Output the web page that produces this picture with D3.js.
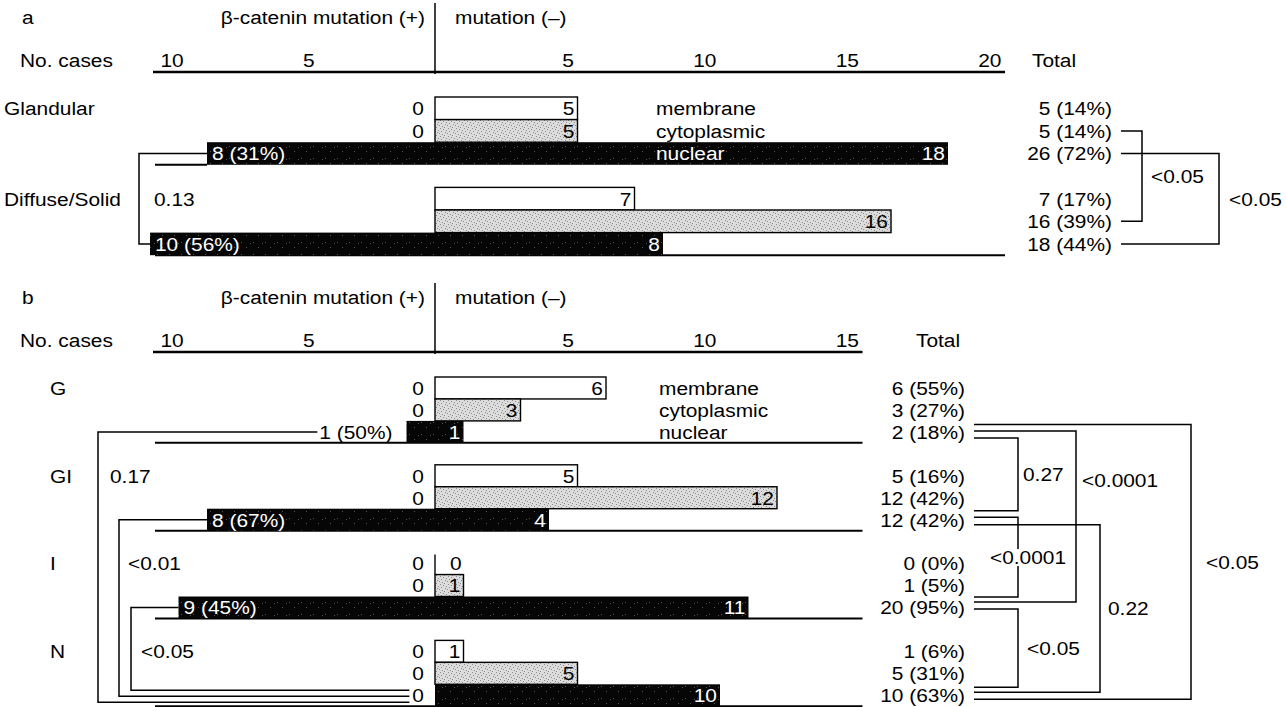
<!DOCTYPE html>
<html><head><meta charset="utf-8">
<script src="https://cdn.jsdelivr.net/npm/d3@7"></script>
<style>
body{margin:0;background:#fff;}
svg text{font-family:"Liberation Sans",Arial,Helvetica,sans-serif;font-size:19px;}
</style></head><body>
<svg id="c" width="1286" height="707"></svg>
<script>
// ---------------- data ----------------
const stains = ["membrane", "cytoplasmic", "nuclear"];

// panel a
const groupsA = ["Glandular", "Diffuse/Solid"];
const mutPlusA = [[0, 0, 8], [null, null, 10]];
const mutMinusA = [[5, 5, 18], [7, 16, 8]];
const nuclearPctA = ["31%", "56%"];
const totalsA = [["5 (14%)", "5 (14%)", "26 (72%)"], ["7 (17%)", "16 (39%)", "18 (44%)"]];
const ticksA = [-10, -5, 5, 10, 15, 20];
const leftTestsA = [{ from: 0, to: 1, p: "0.13" }];
const rightTestsA = [{ from: [0, 1], to: [1, 1], p: "<0.05" }, { from: [0, 2], to: [1, 2], p: "<0.05" }];

// panel b
const groupsB = ["G", "GI", "I", "N"];
const mutPlusB = [[0, 0, 1], [0, 0, 8], [0, 0, 9], [0, 0, 0]];
const mutMinusB = [[6, 3, 1], [5, 12, 4], [0, 1, 11], [1, 5, 10]];
const nuclearPctB = ["50%", "67%", "45%", null];
const totalsB = [["6 (55%)", "3 (27%)", "2 (18%)"], ["5 (16%)", "12 (42%)", "12 (42%)"], ["0 (0%)", "1 (5%)", "20 (95%)"], ["1 (6%)", "5 (31%)", "10 (63%)"]];
const ticksB = [-10, -5, 5, 10, 15];
const leftTestsB = [{ from: 0, to: 3, p: "0.17" }, { from: 1, to: 3, p: "<0.01" }, { from: 2, to: 3, p: "<0.05" }];
const rightTestsB = [
  { from: [0, 2], to: [1, 2], p: "0.27" },
  { from: [0, 2], to: [2, 2], p: "<0.0001" },
  { from: [0, 2], to: [3, 2], p: "<0.05" },
  { from: [1, 2], to: [2, 2], p: "<0.0001" },
  { from: [1, 2], to: [3, 2], p: "0.22" },
  { from: [2, 2], to: [3, 2], p: "<0.05" }
];

// ---------------- layout ----------------
const SX = 1.1; // horizontal text stretch
const layoutA = {
  oy: 0, rowH: 22.6, xmax: 20, catX: 4, totalX: 1112, totalHeadX: 1032, stainX: 656,
  sepLeftOnly: [true, false],
  leftLanes: [{ lane: 139, off: 0, dx: 15 }],
  rightLanes: [{ lane: 1142, o0: 0, o1: 0, dx: 9 }, { lane: 1219, o0: 0, o1: 0, dx: 10 }]
};
const layoutB = {
  oy: 280, rowH: 21.95, xmax: 15, catX: 50, totalX: 965, totalHeadX: 916, stainX: 659,
  sepLeftOnly: [false, false, false, false],
  leftLanes: [{ lane: 98, off: 7, dx: 12 }, { lane: 119, off: 1, dx: 9 }, { lane: 131, off: -5, dx: 10 }],
  rightLanes: [
    { lane: 1018, o0: 6, o1: -9, dx: 5 },
    { lane: 1076, o0: -1, o1: -5.5, dx: 6, ly: 480 },
    { lane: 1191, o0: -7.5, o1: 4, dx: 15 },
    { lane: 1018, o0: -2.5, o1: -10.5, dx: 10, bg: true },
    { lane: 1100, o0: 5, o1: -3, dx: 8 },
    { lane: 1018, o0: 1.5, o1: -8, dx: 9 }
  ]
};

// ---------------- drawing ----------------
const svg = d3.select("#c");
const defs = svg.append("defs");
function stipple(id, bg, dot, pts, size) {
  const p = defs.append("pattern").attr("id", id).attr("width", size).attr("height", size).attr("patternUnits", "userSpaceOnUse");
  p.append("rect").attr("width", size).attr("height", size).attr("fill", bg);
  pts.forEach(([a, b]) => p.append("rect").attr("x", a).attr("y", b).attr("width", 1).attr("height", 1).attr("fill", dot));
}
stipple("cyto", "#dcdcdc", "#8c8c8c", [[0, 0], [3, 1], [1, 3], [5, 4], [2, 6], [6, 2], [4, 7], [7, 5]], 8);
stipple("nuc", "#060606", "#555", [[1, 2], [6, 7], [10, 3]], 12);

function txt(sel, x, y, s, anchor = "start", fill = "#000") {
  return sel.append("text").attr("transform", `translate(${x},${y}) scale(${SX},1)`).attr("dy", "0.36em")
    .attr("text-anchor", anchor).attr("fill", fill).text(s);
}
const tw = t => t.node().getComputedTextLength() * SX;
function seg(sel, d, w = 1.5) {
  return sel.append("path").attr("d", d).attr("fill", "none").attr("stroke", "#000").attr("stroke-width", w);
}

function drawPanel(letter, groups, plus, minus, pct, totals, ticks, leftT, rightT, L) {
  const g = svg.append("g");
  const oy = L.oy;
  const x = d3.scaleLinear().domain([-10, L.xmax]).range([150, 150 + (L.xmax + 10) * 28.5]);
  const x0 = x(0);
  const rowY = (gi, r) => oy + 97 + (gi * 4 + r) * L.rowH;
  const rowC = (gi, r) => rowY(gi, r) + L.rowH / 2;

  // header
  txt(g, 22, oy + 17, letter);
  txt(g, x0 - 10, oy + 17, "β-catenin mutation (+)", "end");
  txt(g, x0 + 20, oy + 17, "mutation (–)");
  seg(g, `M${x0},${oy + 3}V${oy + 74}`, 1.5);
  txt(g, 20, oy + 60, "No. cases");
  txt(g, L.totalHeadX, oy + 60, "Total");

  // axis
  const axG = g.append("g").attr("transform", `translate(0,${oy + 72})`)
    .call(d3.axisTop(x).tickValues(ticks).tickSize(0).tickFormat(d => Math.abs(d)));
  axG.attr("font-size", null).attr("font-family", null);
  axG.select(".domain").attr("stroke-width", 2.5).attr("d", `M${x(-10) + 3},0H${x(L.xmax)}`);
  axG.selectAll(".tick text")
    .attr("y", null).attr("x", null).attr("dy", "0.36em").attr("fill", "#000")
    .attr("text-anchor", d => d > 0 ? "end" : "start")
    .attr("transform", d => `translate(${d > 0 ? -4 : 10},-12) scale(${SX},1)`);

  const leftEnd = [];
  groups.forEach((gn, gi) => {
    txt(g, L.catX, rowC(gi, 0), gn);
    for (let r = 0; r < 3; r++) {
      const y = rowY(gi, r), h = L.rowH, c = rowC(gi, r);
      const p = plus[gi][r], m = minus[gi][r];
      if (r === 2) {
        const xe = L.sepLeftOnly[gi] ? x(-(p || 0)) : x(L.xmax);
        seg(g, `M${x(-10) + 5},${y + h}H${xe}`, 2);
      }
      const left = (r === 2 && p > 0) ? x(-p) : x0;
      const fill = r === 0 ? "#fff" : r === 1 ? "url(#cyto)" : "url(#nuc)";
      if (x(m) - left > 0) {
        g.append("rect").attr("x", left).attr("y", y).attr("width", x(m) - left).attr("height", h)
          .attr("fill", fill).attr("stroke", r === 2 ? "none" : "#000").attr("stroke-width", 1.4);
      } else {
        seg(g, `M${x0},${y + 2}V${y + h}`, 1.4);
      }
      // mutation(-) value
      if (m > 0) txt(g, x(m) - 3, c, String(m), "end", r === 2 ? "#fff" : "#000");
      else txt(g, x0 + 15, c, "0");
      // mutation(+) value
      if (p !== null) {
        if (r === 2 && p > 0) {
          const lbl = `${p} (${pct[gi]})`;
          if (x0 - x(-p) > 100) {
            txt(g, x(-p) + 5, c, lbl, "start", "#fff");
            leftEnd[gi] = x(-p);
          } else {
            const t = txt(g, x(-p) - 14, c, lbl, "end");
            leftEnd[gi] = x(-p) - 14 - tw(t) - 2;
          }
        } else {
          const t = txt(g, x0 - 11, c, "0", "end");
          if (r === 2) leftEnd[gi] = x0 - 11 - tw(t) - 3;
        }
      }
      // stain names
      if (gi === 0) {
        const covered = r === 2 && x(m) > L.stainX + 80;
        txt(g, L.stainX, c, stains[r], "start", covered ? "#fff" : "#000");
      }
      // totals
      txt(g, L.totalX, c, totals[gi][r], "end");
    }
  });

  // left brackets (mutation + nuclear)
  leftT.forEach((t, i) => {
    const lay = L.leftLanes[i];
    const y1 = rowC(t.from, 2), y2 = rowC(t.to, 2) + lay.off;
    seg(g, `M${leftEnd[t.from]},${y1}H${lay.lane}V${y2}H${leftEnd[t.to]}`, 1.5);
    txt(g, lay.lane + lay.dx, rowC(t.from + 1, 0), t.p);
  });

  // right brackets (totals)
  const xs = L.totalX + 9;
  rightT.forEach((t, i) => {
    const lay = L.rightLanes[i];
    const ya = rowC(...t.from) + lay.o0, yb = rowC(...t.to) + lay.o1;
    seg(g, `M${xs},${ya}H${lay.lane}V${yb}H${xs}`, 1.5);
  });
  rightT.forEach((t, i) => {
    const lay = L.rightLanes[i];
    const ya = rowC(...t.from) + lay.o0, yb = rowC(...t.to) + lay.o1;
    const ly = lay.ly !== undefined ? lay.ly : (ya + yb) / 2;
    if (lay.bg) {
      const cx = lay.lane + lay.dx;
      const tt = txt(g, cx, ly, t.p, "middle");
      const w = tw(tt);
      g.insert("rect", () => tt.node()).attr("x", cx - w / 2 - 1).attr("y", ly - 8).attr("width", w + 2).attr("height", 17).attr("fill", "#fff");
    } else {
      txt(g, lay.lane + lay.dx, ly, t.p);
    }
  });
}

drawPanel("a", groupsA, mutPlusA, mutMinusA, nuclearPctA, totalsA, ticksA, leftTestsA, rightTestsA, layoutA);
drawPanel("b", groupsB, mutPlusB, mutMinusB, nuclearPctB, totalsB, ticksB, leftTestsB, rightTestsB, layoutB);
</script>
</body></html>
